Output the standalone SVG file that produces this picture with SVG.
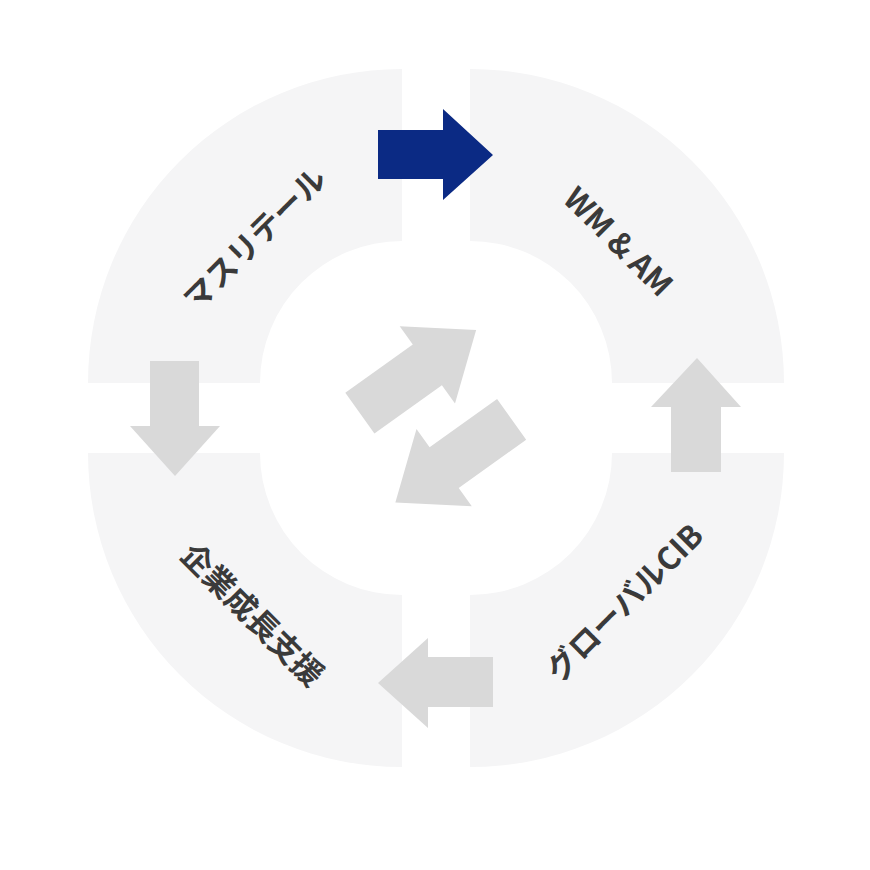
<svg xmlns="http://www.w3.org/2000/svg" width="870" height="870" viewBox="0 0 870 870">
<style>
.q{fill:#f5f5f6}
.ga{fill:#d9d9d9}
.ba{fill:#0b2a84}
.t{font-family:"Noto Sans CJK JP","Liberation Sans",sans-serif;font-weight:700;fill:#3a3a3a;font-size:31px;text-anchor:middle;dominant-baseline:central}
</style>
<rect width="870" height="870" fill="#fff"/>
<g id="node-retail">
<path class="q" d="M88,383 A314,314 0 0 1 402,69 L402,241 A142,142 0 0 0 260,383 Z"/>
<text class="t" transform="translate(253,237) rotate(-45)">マスリテール</text>
</g>
<g id="node-wmam">
<path class="q" d="M470,69 A314,314 0 0 1 784,383 L612,383 A142,142 0 0 0 470,241 Z"/>
<text class="t" transform="translate(620,240) rotate(45)">WM &amp; AM</text>
</g>
<g id="node-corp">
<path class="q" d="M88,453 L260,453 A142,142 0 0 0 402,595 L402,767 A314,314 0 0 1 88,453 Z"/>
<text class="t" transform="translate(254,613) rotate(45)">企業成長支援</text>
</g>
<g id="node-cib">
<path class="q" d="M784,453 A314,314 0 0 1 470,767 L470,595 A142,142 0 0 0 612,453 Z"/>
<text class="t" transform="translate(623,601) rotate(-45)">グローバルCIB</text>
</g>
<g id="connectors">
<path class="ba" d="M378,130 H443 V109 L493,155 L443,200 V179 H378 Z"/>
<path class="ga" d="M150,361 H199 V426 H220 L175,476 L130,426 H150 Z"/>
<path class="ga" d="M671,472 V407 H651 L697,358 L741,407 H721 V472 Z"/>
<path class="ga" d="M493,657 V707 H428 V728 L378,683 L428,638 V657 Z"/>
<path class="ga" transform="translate(418,371.5) rotate(-35.6)" d="M-71.5,-25 H11.5 V-47.5 L71.5,0 L11.5,47.5 V25 H-71.5 Z"/>
<path class="ga" transform="translate(453.5,461) rotate(144.4)" d="M-71.5,-25 H11.5 V-47.5 L71.5,0 L11.5,47.5 V25 H-71.5 Z"/>
</g>
</svg>
